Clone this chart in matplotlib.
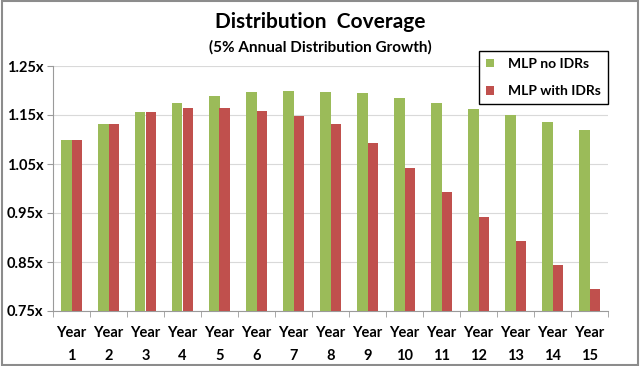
import matplotlib
matplotlib.use('Agg')
from matplotlib import pyplot as plt
from matplotlib.patches import Rectangle
import numpy as np

years = ['Year\n' + str(i) for i in range(1, 16)]
no_idrs = [1.100, 1.132, 1.156, 1.175, 1.189, 1.196, 1.198, 1.196, 1.194, 1.185,
           1.175, 1.163, 1.149, 1.136, 1.120]
with_idrs = [1.100, 1.132, 1.156, 1.165, 1.165, 1.158, 1.148, 1.131, 1.093, 1.042,
             0.993, 0.942, 0.893, 0.843, 0.794]
y_ticks = [0.75, 0.85, 0.95, 1.05, 1.15, 1.25]

plt.rcParams['font.family'] = ['Lato', 'DejaVu Sans']

fig = plt.figure(figsize=(6.4, 3.66), dpi=100)
ax = fig.add_axes([53/640, 55/366, 555/640, 245/366])

x = np.arange(len(years))
w = 0.29
ax.bar(x - w/2, no_idrs, w, color='#9bbb59', label='MLP no IDRs', zorder=3)
ax.bar(x + w/2, with_idrs, w, color='#c0504d', label='MLP with IDRs', zorder=3)

ax.set_xlim(-0.5, len(years) - 0.5)
ax.set_ylim(0.75, 1.25)
ax.set_yticks(y_ticks)
ax.set_yticklabels(['%.2fx' % v for v in y_ticks], fontsize=10.5, fontweight='bold')
ax.set_xticks(x)
ax.set_xticklabels(years, fontsize=10.5, fontweight='bold', linespacing=1.8)
ax.set_xticks(np.arange(len(years) + 1) - 0.5, minor=True)
ax.tick_params(axis='x', which='major', length=0, pad=11)
ax.tick_params(axis='x', which='minor', length=4, color='#9a9a9a')
ax.tick_params(axis='y', length=4, color='#9a9a9a', pad=3)
ax.grid(axis='y', color='#d9d9d9', linewidth=0.8, zorder=0)

for s in ['top', 'right']:
    ax.spines[s].set_visible(False)
ax.spines['left'].set_color('#9a9a9a')
ax.spines['bottom'].set_color('#9a9a9a')

fig.text(0.5, 1 - 22/366, 'Distribution  Coverage', ha='center', va='center',
         fontsize=15, fontweight='bold')
fig.text(0.5, 1 - 47/366, '(5% Annual Distribution Growth)', ha='center', va='center',
         fontsize=11, fontweight='bold')

leg = ax.legend(loc='upper left', bbox_to_anchor=(479/640, 1 - 51/366),
                bbox_transform=fig.transFigure, fancybox=False, edgecolor='black',
                framealpha=1, prop={'weight': 'bold', 'size': 10},
                handlelength=0.6, handleheight=0.6, handletextpad=1.0,
                labelspacing=1.1, borderpad=0.5, borderaxespad=0)
leg.get_frame().set_linewidth(1.0)
leg.set_zorder(5)

fig.patches.append(Rectangle((0.003, 0.004), 0.994, 0.992, transform=fig.transFigure,
                             fill=False, edgecolor='#8c8c8c', linewidth=1.5))

fig.savefig('out.png', dpi=100)
